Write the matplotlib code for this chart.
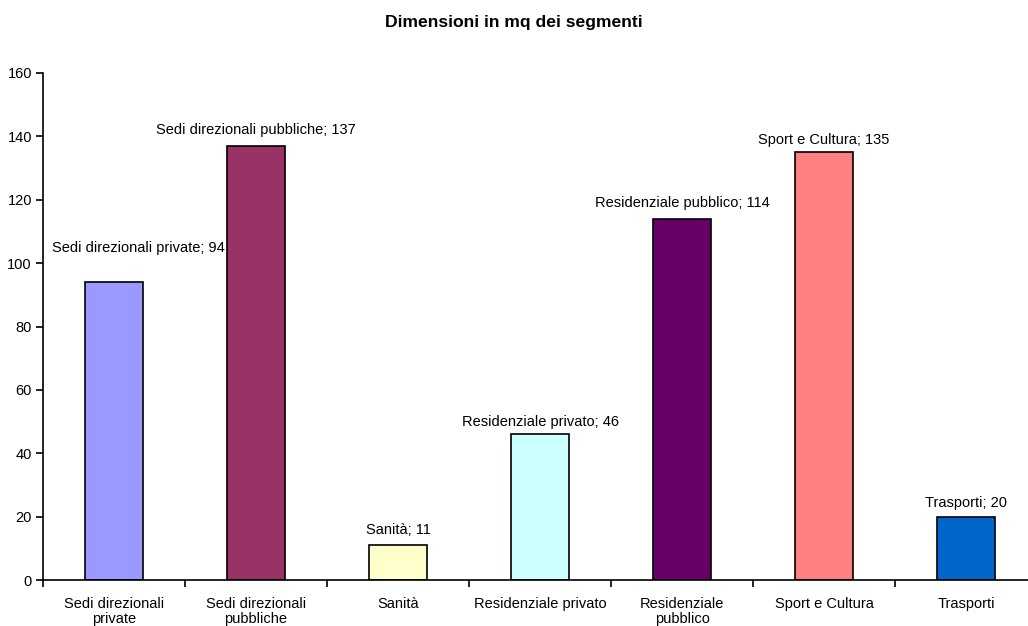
import numpy as np
import matplotlib.pyplot as plt

plt.rcParams['font.family'] = ['Liberation Sans', 'DejaVu Sans']

categories = ['Sedi direzionali\nprivate', 'Sedi direzionali\npubbliche', 'Sanità',
              'Residenziale privato', 'Residenziale\npubblico', 'Sport e Cultura', 'Trasporti']
label_names = ['Sedi direzionali private', 'Sedi direzionali pubbliche', 'Sanità',
               'Residenziale privato', 'Residenziale pubblico', 'Sport e Cultura', 'Trasporti']
values = [94, 137, 11, 46, 114, 135, 20]
colors = ['#9999FF', '#993366', '#FFFFCC', '#CCFFFF', '#660066', '#FF8080', '#0066CC']

fig = plt.figure(figsize=(10.28, 6.26), dpi=100)
ax = fig.add_axes([43 / 1028, 46 / 626, 994 / 1028, 507 / 626])

x = np.arange(len(values))
ax.bar(x, values, width=0.41, color=colors, edgecolor='black', linewidth=1.2)

# data labels (offsets in points)
offsets = [(17.5, 24.5), (0, 11.5), (0, 11), (0, 8.5), (0, 11.5), (0, 9), (0, 9.5)]
for i, v in enumerate(values):
    ax.annotate(f'{label_names[i]}; {v}', (x[i], v), xytext=offsets[i],
                textcoords='offset points', ha='center', va='center', fontsize=10.5)

ax.set_xlim(-0.5, len(values) - 0.5)
ax.set_ylim(0, 160)
ax.set_yticks(np.arange(0, 161, 20))
ax.set_xticks(np.arange(-0.5, len(values), 1.0))
ax.set_xticklabels([])
ax.set_xticks(x, minor=True)
ax.set_xticklabels(categories, minor=True, fontsize=10.5, linespacing=1.15)
ax.tick_params(axis='x', which='major', direction='out', length=5, width=1.2)
ax.tick_params(axis='x', which='minor', length=0, pad=12)
ax.tick_params(axis='y', direction='out', length=5, width=1.2, labelsize=10.5, pad=3)

for s in ['top', 'right']:
    ax.spines[s].set_visible(False)
for s in ['left', 'bottom']:
    ax.spines[s].set_linewidth(1.2)

fig.text(0.5, 1 - 23 / 626, 'Dimensioni in mq dei segmenti', ha='center', va='center',
         fontsize=12.6, fontweight='bold')

fig.savefig('out.png', dpi=100)
